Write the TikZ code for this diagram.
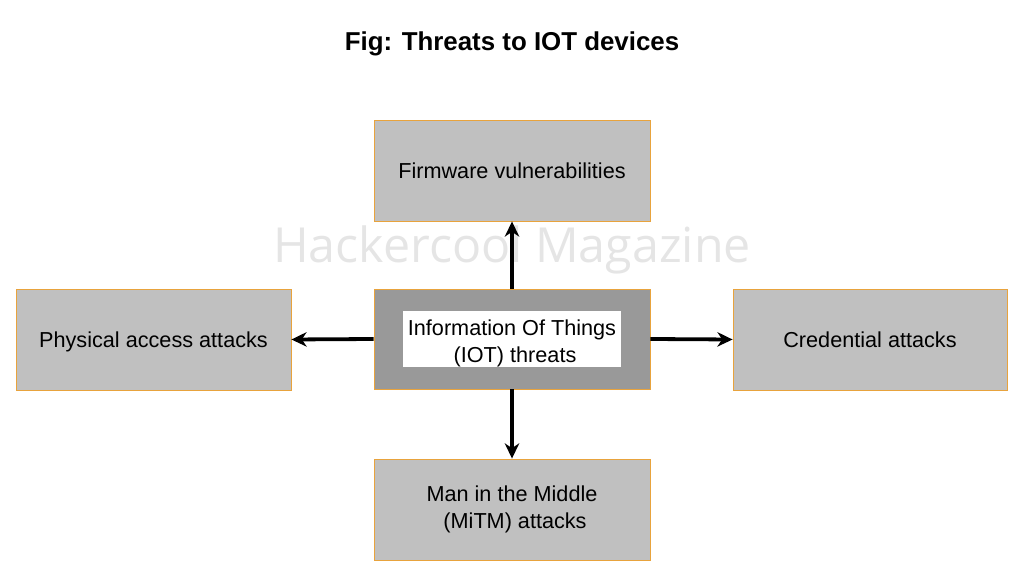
\documentclass[tikz,border=0pt]{standalone}
\usepackage{fontspec}
\setmainfont{Liberation Sans}
\newfontfamily\markfont{Open Sans}
\usepackage{xcolor}
\usetikzlibrary{arrows.meta,positioning}
\definecolor{boxgray}{HTML}{C0C0C0}
\definecolor{coregray}{HTML}{999999}
\definecolor{edgeorange}{HTML}{E8A33D}
\tikzset{
  threat/.style={rectangle, draw=edgeorange, fill=boxgray, line width=0.6pt,
    minimum height=25.25mm, minimum width=69mm, align=center,
    font=\fontsize{15.4}{19.2}\selectfont},
  oneline/.style={text height=11pt, text depth=0pt},
  core/.style={rectangle, draw=edgeorange, fill=coregray, line width=0.6pt,
    minimum height=25mm, minimum width=69mm},
  inner/.style={rectangle, fill=white, minimum height=14mm, minimum width=54.5mm,
    inner sep=0pt},
  arr/.style={-{Stealth[length=3.8mm,width=3.6mm,inset=1.2mm]}, line width=2.7pt, black},
}
\begin{document}
\begin{tikzpicture}
  \useasboundingbox (0,0) rectangle (25.6,14.4);
  \node[font=\fontsize{18.4}{22}\selectfont\bfseries] (title) at (12.8,13.3) {Fig: Threats to IOT devices};
  % watermark behind the connectors
  \node[text=black!10, font=\markfont\fontsize{34.4}{40}\selectfont] (mark) at (12.8,8.15) {Hackercool Magazine};
  % centre and the four threats
  \node[core] (iot) at (12.8,5.925) {};
  \node[inner] (iottext) at (iot) {};
  \node[align=center, font=\fontsize{15.4}{19.2}\selectfont] (iotlabel) at ([yshift=-1mm]iottext) {Information Of Things\\ \ (IOT) threats};
  \node[threat, oneline] (firm) at (12.8,10.1375) {Firmware vulnerabilities};
  \node[threat, oneline, minimum width=68.75mm] (phys) at (3.8375,5.9125) {Physical access attacks};
  \node[threat, oneline, minimum width=68.5mm] (cred) at (21.75,5.9125) {Credential attacks};
  \node[threat] (mitm) at (12.8,1.6625) {Man in the Middle\\ \ (MiTM) attacks};
  % connectors
  \draw[arr] (iot.north) -- (firm.south);
  \draw[arr] (iot.west) -- (phys.east);
  \draw[arr] (iot.east) -- (cred.west);
  \draw[arr] (iot.south) -- (mitm.north);
\end{tikzpicture}
\end{document}
